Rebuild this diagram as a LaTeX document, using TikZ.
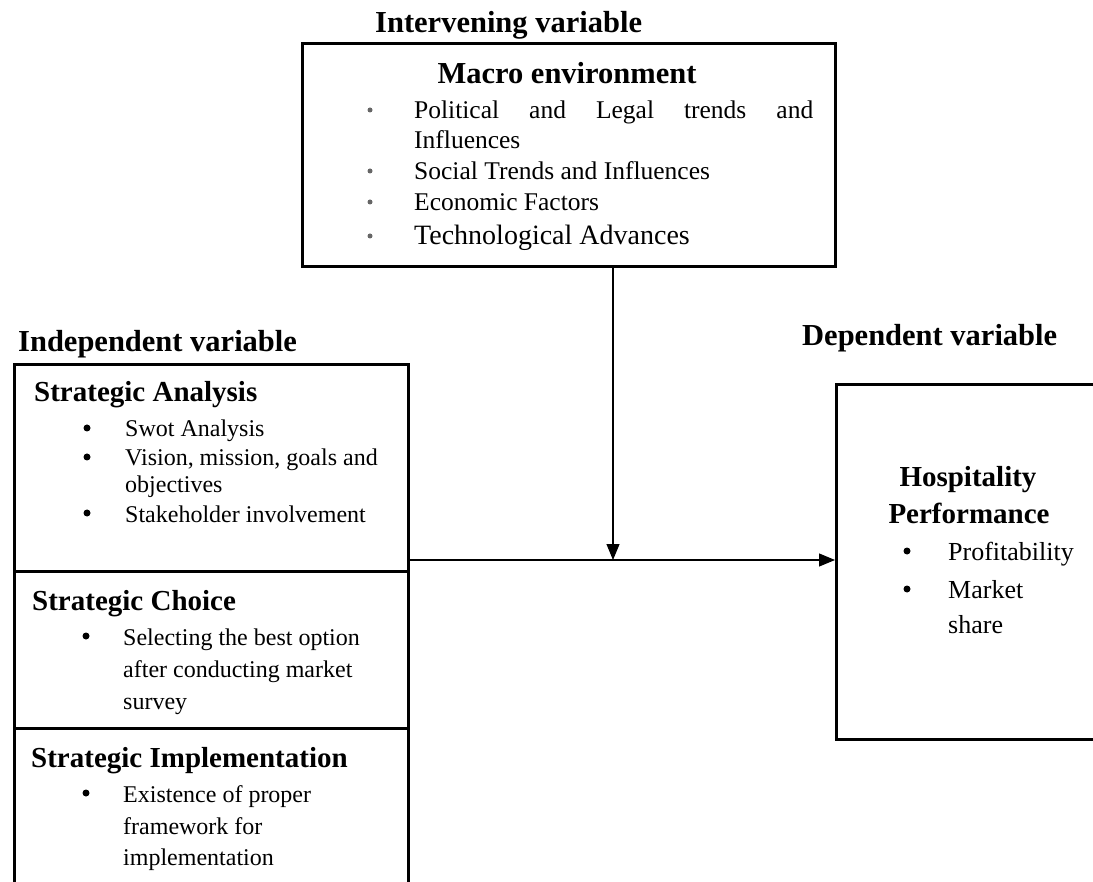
\documentclass[tikz,border=0pt]{standalone}
\usepackage{fontspec}
\setmainfont{Liberation Serif}
\usetikzlibrary{arrows.meta,positioning}
\tikzset{
  frame/.style={draw, line width=2.6pt, anchor=north west, inner sep=0pt},
  head/.style={font=\fontsize{29}{32}\selectfont\bfseries, inner sep=0pt, anchor=base},
  lefthead/.style={head, anchor=base west},
  vartitle/.style={font=\fontsize{30.5}{32}\selectfont\bfseries, inner sep=0pt, anchor=base west},
  item/.style={font=\fontsize{24}{30}\selectfont, anchor=base west, inner sep=0pt},
  macroitem/.style={item, font=\fontsize{25.5}{30}\selectfont},
  perfitem/.style={item, font=\fontsize{26}{30}\selectfont},
  dot/.style={circle, fill, inner sep=0pt, minimum size=7pt},
  smalldot/.style={circle, fill=black!60, inner sep=0pt, minimum size=5pt},
  link/.style={line width=1.1pt, -{Triangle[length=16pt,width=13pt]}},
}

\begin{document}
\begin{tikzpicture}[x=1pt,y=-1pt]
  \useasboundingbox (0,0) rectangle (1093,882);
  \clip (0,0) rectangle (1093,882);

  % boxes
  \node[frame, minimum width=533pt, minimum height=223pt] (macro) at (301,42) {};
  \node[frame, minimum width=394pt, minimum height=207pt] (analysis) at (13,363) {};
  \node[frame, minimum width=394pt, minimum height=157pt] (choice) at (13,570) {};
  \node[frame, minimum width=394pt, minimum height=200pt] (impl) at (13,727) {};
  \node[frame, minimum width=320pt, minimum height=355pt] (perf) at (835,383) {};

  % variable titles
  \node[vartitle] (intervening) at (375,33) {Intervening variable};
  \node[vartitle] (independent) at (18,352) {Independent variable};
  \node[vartitle] (dependent) at (802,346) {Dependent variable};

  % macro environment
  \node[head, font=\fontsize{30.5}{32}\selectfont\bfseries] (macrotitle) at (567,84) {Macro environment};
  \node[macroitem] (pol) at (414,119) {\makebox[399pt][s]{Political and Legal trends and}};
  \node[macroitem] (polb) at (414,149) {Influences};
  \node[macroitem] (soc) at (414,180) {Social Trends and Influences};
  \node[macroitem] (eco) at (414,211) {Economic Factors};
  \node[macroitem, font=\fontsize{28}{30}\selectfont] (tech) at (414,245) {Technological Advances};
  \foreach \y in {110,171,202,236}
    \node[smalldot] at (370,\y) {};

  % strategic analysis
  \node[lefthead] (analysistitle) at (34,402) {Strategic Analysis};
  \node[item] (swot) at (125,437) {Swot Analysis};
  \node[item] (vision) at (125,466) {Vision, mission, goals and};
  \node[item] (visionb) at (125,493) {objectives};
  \node[item] (stake) at (125,522) {Stakeholder involvement};
  \foreach \y in {428,457,513}
    \node[dot] at (87,\y) {};

  % strategic choice
  \node[lefthead] (choicetitle) at (32,610) {Strategic Choice};
  \node[item] (sel) at (123,645) {Selecting the best option};
  \node[item] (selb) at (123,677) {after conducting market};
  \node[item] (selc) at (123,709) {survey};
  \node[dot] at (86,636) {};

  % strategic implementation
  \node[lefthead] (impltitle) at (31,767) {Strategic Implementation};
  \node[item] (exist) at (123,802) {Existence of proper};
  \node[item] (existb) at (123,834) {framework for};
  \node[item] (existc) at (123,865) {implementation};
  \node[dot] at (86,793) {};

  % hospitality performance
  \node[head] (perftitle) at (968,486) {Hospitality};
  \node[head] (perftitleb) at (969,523) {Performance};
  \node[perfitem] (profit) at (948,560) {Profitability};
  \node[perfitem] (market) at (948,598) {Market};
  \node[perfitem] (marketb) at (948,633) {share};
  \foreach \y in {551,589}
    \node[dot] at (907,\y) {};

  % arrows
  \coordinate (join) at (613,560);
  \draw[link] (join |- macro.south) -- (join);
  \draw[link] (analysis.east |- join) -- (perf.west |- join);
\end{tikzpicture}
\end{document}
